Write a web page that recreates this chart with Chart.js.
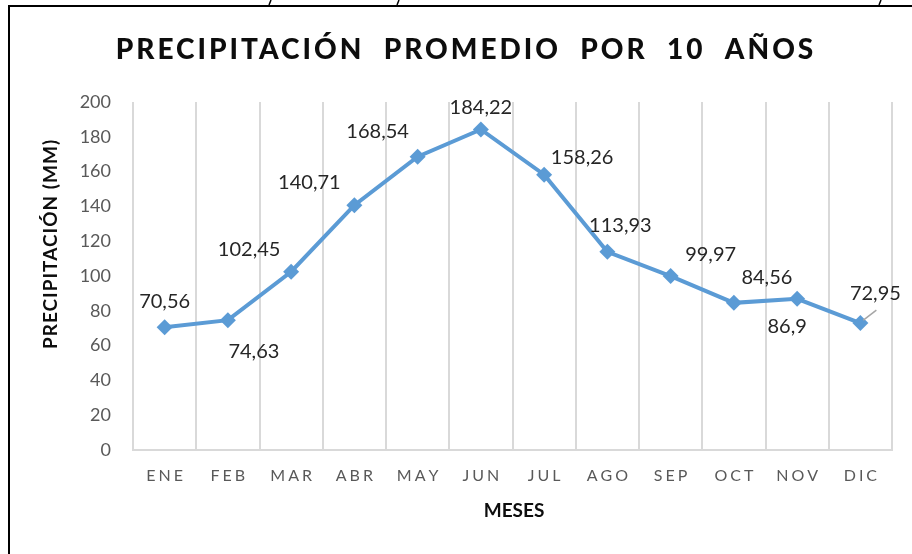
<!DOCTYPE html>
<html>
<head>
<meta charset="utf-8">
<script src="https://cdn.jsdelivr.net/npm/chart.js@4"></script>
<style>
  html, body { margin: 0; padding: 0; background: #fff; }
  #wrap { position: relative; width: 912px; height: 554px; }
</style>
</head>
<body>
<div id="wrap"><canvas id="chart" width="912" height="554"></canvas></div>
<script>
// ── Data ─────────────────────────────────────────────────────────────────────
const months = ['ENE','FEB','MAR','ABR','MAY','JUN','JUL','AGO','SEP','OCT','NOV','DIC'];
const precip = [70.56, 74.63, 102.45, 140.71, 168.54, 184.22, 158.26, 113.93, 99.97, 84.56, 86.9, 72.95];
const yTicks = [0, 20, 40, 60, 80, 100, 120, 140, 160, 180, 200];

const TITLE   = 'PRECIPITACIÓN  PROMEDIO  POR  10  AÑOS';
const Y_TITLE = 'PRECIPITACIÓN (MM)';
const X_TITLE = 'MESES';

// label placement relative to each point (px), like the hand-moved Excel labels
const labelOffsets = [
  [0,-26],[26,31],[-42,-22],[-45,-23],[-40,-25],[0,-22],
  [38,-17],[13,-26],[40,-22],[33,-25],[-10,28],[15,-30]
];

const FONT = "Lato, 'Open Sans', sans-serif";
const BLUE = '#5B9BD5';

// ── Frame, titles, data labels ───────────────────────────────────────────────
const decor = {
  id: 'decor',
  beforeDraw(chart) {
    const c = chart.ctx;
    c.save();
    c.fillStyle = '#fff';
    c.fillRect(0, 0, chart.width, chart.height);
    // box border (left + top only visible)
    c.strokeStyle = '#000';
    c.lineWidth = 2;
    c.beginPath();
    c.moveTo(9, 554); c.lineTo(9, 6); c.lineTo(912, 6);
    c.stroke();
    // fragments of cut-off text above the box
    c.lineWidth = 1.5;
    [[270, 0], [398, 0], [880, 0]].forEach(([x, y]) => {
      c.beginPath(); c.moveTo(x + 1, y); c.lineTo(x - 1, y + 5); c.stroke();
    });
    c.restore();
  },
  afterDraw(chart) {
    const c = chart.ctx;
    c.save();
    // chart title
    c.fillStyle = '#0d0d0d';
    c.font = `900 28px ${FONT}`;
    c.letterSpacing = '3px';
    c.textAlign = 'center';
    c.textBaseline = 'middle';
    c.fillText(TITLE, 466, 50);

    // axis titles
    c.font = `bold 19px ${FONT}`;
    c.letterSpacing = '0px';
    c.fillStyle = '#0d0d0d';
    c.fillText(X_TITLE, 514, 511);
    c.save();
    c.translate(51, 244);
    c.rotate(-Math.PI / 2);
    c.letterSpacing = '1px';
    c.fillText(Y_TITLE, 0, 0);
    c.restore();

    // data labels
    const meta = chart.getDatasetMeta(0);
    c.letterSpacing = '0px';
    c.font = `20px ${FONT}`;
    c.fillStyle = '#262626';
    meta.data.forEach((pt, i) => {
      const [dx, dy] = labelOffsets[i];
      const txt = String(precip[i]).replace('.', ',');
      c.fillText(txt, pt.x + dx, pt.y + dy);
    });
    // leader line for the last label
    const last = meta.data[meta.data.length - 1];
    c.strokeStyle = '#A6A6A6';
    c.lineWidth = 1.5;
    c.beginPath();
    c.moveTo(last.x + 3, last.y - 3);
    c.lineTo(last.x + 16, last.y - 13);
    c.stroke();
    c.restore();
  }
};

new Chart(document.getElementById('chart'), {
  type: 'line',
  data: {
    labels: months,
    datasets: [{
      data: precip,
      borderColor: BLUE,
      backgroundColor: BLUE,
      borderWidth: 4,
      pointStyle: 'rectRot',
      pointRadius: 8,
      pointBorderWidth: 0,
      pointBackgroundColor: BLUE,
      tension: 0,
    }],
  },
  options: {
    responsive: false,
    animation: false,
    devicePixelRatio: 1,
    layout: { padding: { top: 102, right: 20, bottom: 0, left: 0 } },
    plugins: { legend: { display: false }, tooltip: { enabled: false } },
    scales: {
      x: {
        offset: true,
        grid: { offset: true, color: '#D9D9D9', lineWidth: 2, drawTicks: false },
        border: { color: '#D9D9D9', width: 2 },
        ticks: {
          color: '#595959',
          font: { family: FONT, size: 16 },
          padding: 16,
          maxRotation: 0,
          callback: (v, i) => months[i].split('').join('\u2009\u200A'),
        },
        afterFit: s => { s.height = 104; },
      },
      y: {
        min: 0,
        max: 200,
        afterBuildTicks: s => { s.ticks = yTicks.map(v => ({ value: v })); },
        grid: { display: false, drawTicks: false },
        border: { display: false },
        ticks: {
          color: '#595959',
          font: { family: FONT, size: 18 },
          padding: 22,
        },
        afterFit: s => { s.width = 133; },
      },
    },
  },
  plugins: [decor],
});
</script>
</body>
</html>
